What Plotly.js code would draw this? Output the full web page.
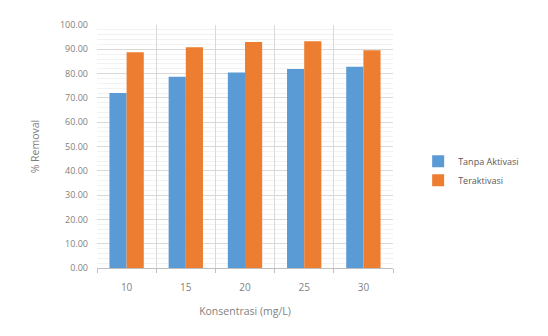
<!DOCTYPE html>
<html>
<head>
<meta charset="utf-8">
<script src="https://cdn.plot.ly/plotly-3.0.1.min.js"></script>
<style>html,body{margin:0;padding:0;background:#fff;}#chart{width:548px;height:336px;}</style>
</head>
<body>
<div id="chart"></div>
<script>
const categories = ["10", "15", "20", "25", "30"];
const tanpaAktivasi = [72.0, 78.7, 80.5, 81.9, 82.8];
const teraktivasi = [88.8, 90.8, 93.0, 93.3, 89.6];
const seriesNames = ["Tanpa Aktivasi", "Teraktivasi"];
const yTicks = [0, 10, 20, 30, 40, 50, 60, 70, 80, 90, 100];

const data = [
  {type: "bar", x: categories, y: tanpaAktivasi, name: seriesNames[0], marker: {color: "#5B9BD5"}},
  {type: "bar", x: categories, y: teraktivasi, name: seriesNames[1], marker: {color: "#ED7D31"}}
];

const layout = {
  width: 548, height: 336,
  margin: {l: 97, r: 155, t: 25, b: 68},
  paper_bgcolor: "#fff", plot_bgcolor: "#fff",
  font: {family: "Open Sans, Arial, sans-serif", color: "#7f7f7f", size: 10},
  barmode: "group", bargap: 0.42, bargroupgap: 0,
  xaxis: {
    type: "category", tickson: "boundaries", showgrid: true, gridcolor: "#d9d9d9",
    showline: true, linecolor: "#bfbfbf", ticks: "outside", ticklen: 4, tickcolor: "#bfbfbf",
    ticklabelstandoff: 10, tickfont: {size: 10, color: "#7f7f7f"},
    title: {text: "Konsentrasi (mg/L)", font: {size: 10.5, color: "#7f7f7f"}, standoff: 14}
  },
  yaxis: {
    range: [0, 100], tickvals: yTicks, tickformat: ".2f", showgrid: true, gridcolor: "#d9d9d9",
    minor: {dtick: 2, showgrid: true, gridcolor: "#f2f2f2"},
    zeroline: false, showline: false, ticks: "", ticklabelstandoff: 8, tickfont: {size: 9, color: "#7f7f7f"},
    title: {text: "% Removal", font: {size: 10.5, color: "#7f7f7f"}, standoff: 18}
  },
  legend: {x: 1.085, xanchor: "left", y: 0.4, yanchor: "middle", font: {size: 9, color: "#595959"}, itemwidth: 30},
  showlegend: true
};

Plotly.newPlot("chart", data, layout, {displayModeBar: false, staticPlot: true});
</script>
</body>
</html>
